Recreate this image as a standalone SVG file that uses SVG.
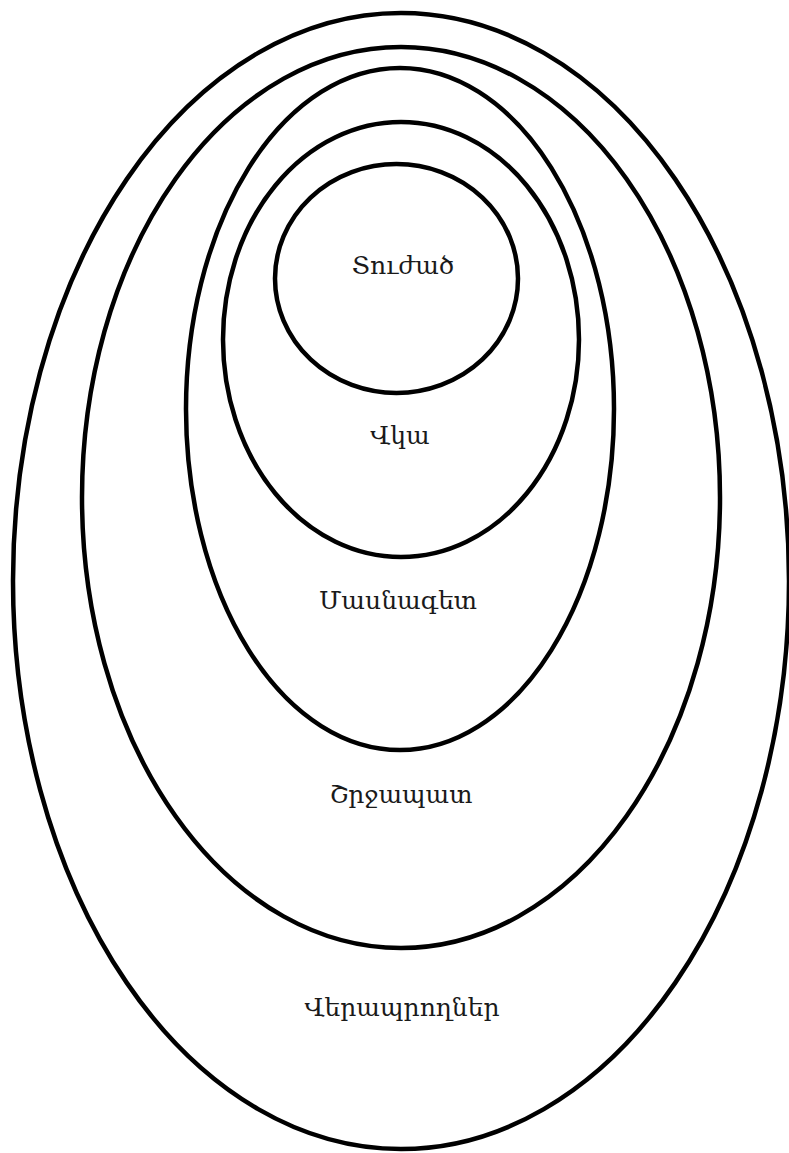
<svg xmlns="http://www.w3.org/2000/svg" width="789" height="1153" viewBox="0 0 789 1153">
<style>
.ring{fill:none;stroke:#000;stroke-width:4.5}
.lbl{font-family:"DejaVu Serif","Noto Serif",serif;font-size:25px;fill:#1a1a1a;text-anchor:middle}
</style>
<rect width="789" height="1153" fill="#fff"/>
<g id="survivors"><ellipse class="ring" cx="401" cy="581" rx="388" ry="568"/><text class="lbl" x="402" y="1016">Վերապրողներ</text></g>
<g id="environment"><ellipse class="ring" cx="401" cy="497.5" rx="319" ry="450.5"/><text class="lbl" x="401" y="803">Շրջապատ</text></g>
<g id="specialist"><ellipse class="ring" cx="400" cy="409" rx="214" ry="341"/><text class="lbl" x="398" y="609">Մասնագետ</text></g>
<g id="witness"><ellipse class="ring" cx="401" cy="339.5" rx="178" ry="217.5"/><text class="lbl" x="400" y="444">Վկա</text></g>
<g id="victim"><ellipse class="ring" cx="396.5" cy="278.5" rx="121.5" ry="114.5"/><text class="lbl" x="403" y="274">Տուժած</text></g>
<g id="connectors"></g>
</svg>
